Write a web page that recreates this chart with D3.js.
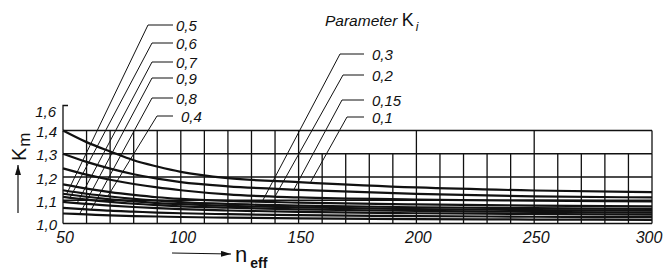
<!DOCTYPE html>
<html><head><meta charset="utf-8">
<script src="https://cdn.jsdelivr.net/npm/d3@7"></script>
<style>
html,body{margin:0;padding:0;background:#fff;}
svg{display:block;}
text{font-family:"Liberation Sans","DejaVu Sans",sans-serif;font-style:italic;fill:#111;}
</style></head>
<body>
<svg id="c" width="663" height="272"></svg>
<script>
// ---- data ----
const nValues = [50, 60, 70, 80, 90, 100, 120, 150, 200, 250, 300];
const kiLabels = ["0,1", "0,15", "0,2", "0,3", "0,4", "0,5", "0,6", "0,7", "0,8", "0,9"];
const km01  = [1.400, 1.350, 1.310, 1.272, 1.245, 1.222, 1.195, 1.178, 1.155, 1.142, 1.135];
const km015 = [1.300, 1.265, 1.236, 1.212, 1.193, 1.178, 1.160, 1.145, 1.127, 1.117, 1.112];
const km02  = [1.237, 1.210, 1.188, 1.170, 1.155, 1.143, 1.125, 1.112, 1.103, 1.098, 1.095];
const km03  = [1.168, 1.150, 1.135, 1.123, 1.113, 1.106, 1.097, 1.090, 1.082, 1.077, 1.074];
const km04  = [1.143, 1.128, 1.116, 1.106, 1.098, 1.092, 1.084, 1.077, 1.070, 1.066, 1.063];
const km05  = [1.128, 1.115, 1.104, 1.095, 1.088, 1.083, 1.076, 1.069, 1.062, 1.058, 1.055];
const km06  = [1.115, 1.103, 1.093, 1.085, 1.079, 1.074, 1.068, 1.061, 1.054, 1.050, 1.047];
const km07  = [1.093, 1.084, 1.077, 1.071, 1.066, 1.062, 1.056, 1.050, 1.044, 1.041, 1.038];
const km08  = [1.067, 1.061, 1.055, 1.051, 1.047, 1.044, 1.040, 1.036, 1.032, 1.029, 1.027];
const km09  = [1.043, 1.039, 1.035, 1.032, 1.030, 1.028, 1.025, 1.022, 1.019, 1.017, 1.016];
const series = [km01, km015, km02, km03, km04, km05, km06, km07, km08, km09];
// leader end points (n on the curve) for each parameter label
const leftLabels  = ["0,5", "0,6", "0,7", "0,9", "0,8", "0,4"];
const leftEndN    = [51.5, 53, 56, 57, 62, 69];
const rightLabels = ["0,3", "0,2", "0,15", "0,1"];
const rightEndN   = [134.5, 140, 148, 155];
const yTicks = [1.0, 1.1, 1.2, 1.3, 1.4];
const yTickLabels = ["1,0", "1,1", "1,2", "1,3", "1,4"];
const yTopLabel = "1,6";
const xTicks = [50, 100, 150, 200, 250, 300];
const gridFine = d3.range(50, 301, 10);
const gridTopRow = [50, 60, 70, 80, 90, 100, 110, 120, 130, 140, 150, 200, 250, 300];

// ---- layout ----
const svg = d3.select("#c");
const x = d3.scaleLinear().domain([50, 300]).range([63, 652]);
const y = d3.scaleLinear().domain([1.0, 1.4]).range([223.5, 130.5]);
const ink = "#111";

// grid
const g = svg.append("g").attr("stroke", ink).attr("stroke-width", 1.3).attr("fill", "none");
g.selectAll("line.h").data(yTicks).join("line")
  .attr("x1", x(50)).attr("x2", x(300)).attr("y1", d => y(d)).attr("y2", d => y(d));
g.selectAll("line.v").data(gridFine).join("line")
  .attr("x1", d => x(d)).attr("x2", d => x(d)).attr("y1", y(1.0)).attr("y2", y(1.3));
g.selectAll("line.vt").data(gridTopRow).join("line")
  .attr("x1", d => x(d)).attr("x2", d => x(d)).attr("y1", y(1.3)).attr("y2", y(1.4));
// axis extension to 1,6
g.append("path").attr("d", `M${x(50)},${y(1.4)}V${y(1.4)-25}h5`);

// curves
const line = d3.line().x((d, i) => x(nValues[i])).y(d => y(d)).curve(d3.curveMonotoneX);
svg.append("g").selectAll("path").data(series).join("path")
  .attr("d", line).attr("fill", "none").attr("stroke", ink).attr("stroke-width", 2.2);

function valueAt(label, n) {
  const s = series[kiLabels.indexOf(label)];
  let i = d3.bisectRight(nValues, n) - 1;
  i = Math.max(0, Math.min(i, nValues.length - 2));
  const t = (n - nValues[i]) / (nValues[i + 1] - nValues[i]);
  return s[i] + t * (s[i + 1] - s[i]);
}

// leaders
const leadG = svg.append("g").attr("stroke", ink).attr("stroke-width", 1).attr("fill", "none");
function leaders(labels, endN, elbowX, labelY, segEnd, textX) {
  labels.forEach((lab, i) => {
    const ly = labelY[i];
    const ex = x(endN[i]), ey = y(valueAt(lab, endN[i]));
    leadG.append("path").attr("d", `M${ex},${ey}L${elbowX[i]},${ly}H${segEnd}`);
    svg.append("text").attr("x", textX[i]).attr("y", ly + 5.5).attr("font-size", 15).text(lab);
  });
}
leaders(leftLabels, leftEndN, [148, 152, 152, 152, 152, 157], [25, 43, 62, 78, 98, 116], 173,
        [176, 176, 176, 176, 176, 181]);
leaders(rightLabels, rightEndN, [340, 343, 342, 347], [54, 75, 100, 117], 364,
        [372, 372, 372, 372]);

// y tick labels
svg.append("g").selectAll("text").data(yTicks).join("text")
  .attr("x", 57).attr("y", d => y(d) + 6.5).attr("text-anchor", "end").attr("font-size", 15)
  .text((d, i) => yTickLabels[i]);
svg.append("text").attr("x", 56).attr("y", y(1.4) - 14).attr("text-anchor", "end")
  .attr("font-size", 15).text(yTopLabel);
// x tick labels
svg.append("g").selectAll("text").data(xTicks).join("text")
  .attr("x", d => Math.min(x(d) + 2, 649)).attr("y", 243).attr("text-anchor", "middle").attr("font-size", 16)
  .text(d => d);

// axis titles
const defs = svg.append("defs");
defs.append("marker").attr("id", "ah").attr("viewBox", "0 0 10 6").attr("refX", 10).attr("refY", 3)
  .attr("markerWidth", 10).attr("markerHeight", 6).attr("markerUnits", "userSpaceOnUse").attr("orient", "auto")
  .append("path").attr("d", "M0,0L10,3L0,6Z").attr("fill", ink);
svg.append("line").attr("x1", 172).attr("y1", 253).attr("x2", 231).attr("y2", 254)
  .attr("stroke", ink).attr("stroke-width", 1.2).attr("marker-end", "url(#ah)");
const nt = svg.append("text").attr("x", 235).attr("y", 262).attr("font-size", 22).style("font-style", "normal");
nt.append("tspan").text("n");
nt.append("tspan").attr("dx", 3).attr("dy", 6).attr("font-size", 14).attr("font-weight", "bold").text("eff");

svg.append("line").attr("x1", 18).attr("y1", 213).attr("x2", 18).attr("y2", 165)
  .attr("stroke", ink).attr("stroke-width", 1.2).attr("marker-end", "url(#ah)");
const kt = svg.append("text").attr("transform", "translate(26,161) rotate(-90)").attr("font-size", 20)
  .style("font-style", "normal");
kt.append("tspan").text("K");
kt.append("tspan").attr("dx", 1).attr("dy", 4).attr("font-size", 17).text("m");

// parameter title
const pt = svg.append("text").attr("x", 325).attr("y", 26).attr("font-size", 15.5);
pt.append("tspan").text("Parameter ");
pt.append("tspan").attr("font-size", 18).style("font-style", "normal").text("K");
pt.append("tspan").attr("dx", 2).attr("dy", 5).attr("font-size", 12).text("i");
</script>
</body></html>
